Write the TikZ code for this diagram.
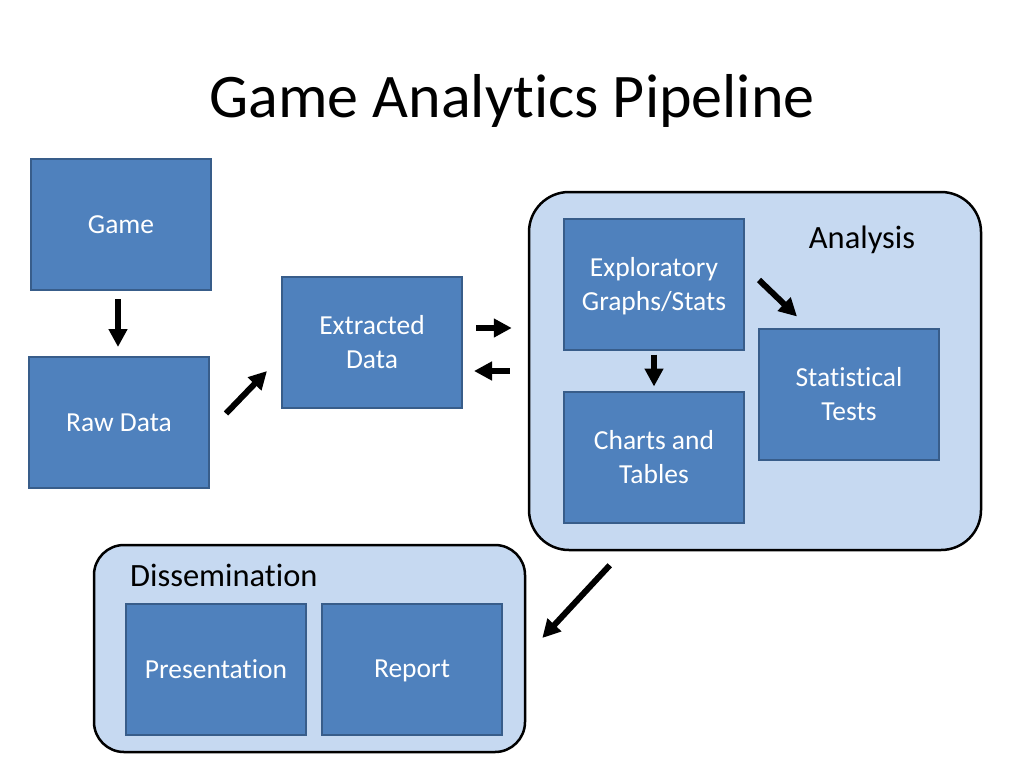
\documentclass[tikz,border=0pt]{standalone}
\usepackage{fontspec}
\setmainfont{Carlito}[Ligatures={NoCommon}]
\usetikzlibrary{arrows.meta}
\definecolor{boxblue}{HTML}{4F81BD}
\definecolor{boxedge}{HTML}{385D8A}
\definecolor{grouptint}{HTML}{C6D9F1}
\begin{document}
\begin{tikzpicture}[x=1pt,y=-1pt,
        box/.style={draw=boxedge,line width=2pt,fill=boxblue,text=white,
            minimum width=180pt,minimum height=131pt,inner sep=0pt,align=center,
            text depth=0pt,font=\fontsize{27.5}{33.5}\selectfont},
        group/.style={draw=black,line width=2.5pt,fill=grouptint,inner sep=0pt},
        label/.style={font=\fontsize{32.5}{38}\selectfont},
        flow/.style={line width=6pt,-{Triangle[length=18pt,width=18pt]}}]
        \useasboundingbox (0,0) rectangle (1024,768);
        \node[anchor=base,font=\fontsize{62}{70}\selectfont] (title) at (512,117) {Game Analytics Pipeline};
        % containers
        \node[group,rounded corners=40pt,minimum width=452pt,minimum height=358pt] (analysis) at (755,371) {};
        \node[group,rounded corners=30pt,minimum width=431pt,minimum height=207pt] (dissem) at (309.5,648.5) {};
        \node[label] (analysislabel) at (862,240) {Analysis};
        \node[label,anchor=west,inner sep=0pt] (dissemlabel) at (130,575) {Dissemination};
        % boxes
        \node[box] (game) at (121,224.5) {Game};
        \node[box] (raw) at (119,422.5) {Raw Data};
        \node[box] (extracted) at (372,342) {Extracted\\Data};
        \node[box] (explore) at (654,284) {Exploratory\\Graphs/Stats};
        \node[box] (charts) at (654,457) {Charts and\\Tables};
        \node[box] (stats) at (849,394) {Statistical\\Tests};
        \node[box] (present) at (216,669) {Presentation};
        \node[box] (report) at (412,669) {Report};
        % arrows
        \draw[flow] ([xshift=-3pt,yshift=-8pt]game.south) -- ([xshift=-1pt,yshift=9pt]raw.north);
        \draw[flow] ([xshift=16pt,yshift=9pt]raw.east) -- ([xshift=-14pt,yshift=-29pt]extracted.west);
        \draw[flow] ([xshift=13pt,yshift=14pt]extracted.east) -- ([xshift=-16pt,yshift=43pt]analysis.west);
        \draw[flow] ([xshift=-18pt]analysis.west) -- ([xshift=11pt,yshift=-29pt]extracted.east);
        \draw[flow] ([yshift=-4pt]explore.south) -- ([yshift=4pt]charts.north);
        \draw[flow] ([xshift=14pt,yshift=4pt]explore.east) -- ([xshift=-52pt,yshift=11pt]stats.north);
        \draw[flow] ([xshift=82pt,yshift=-14pt]analysis.south west) -- ([xshift=16pt,yshift=10.5pt]dissem.east);
    \end{tikzpicture}
\end{document}
